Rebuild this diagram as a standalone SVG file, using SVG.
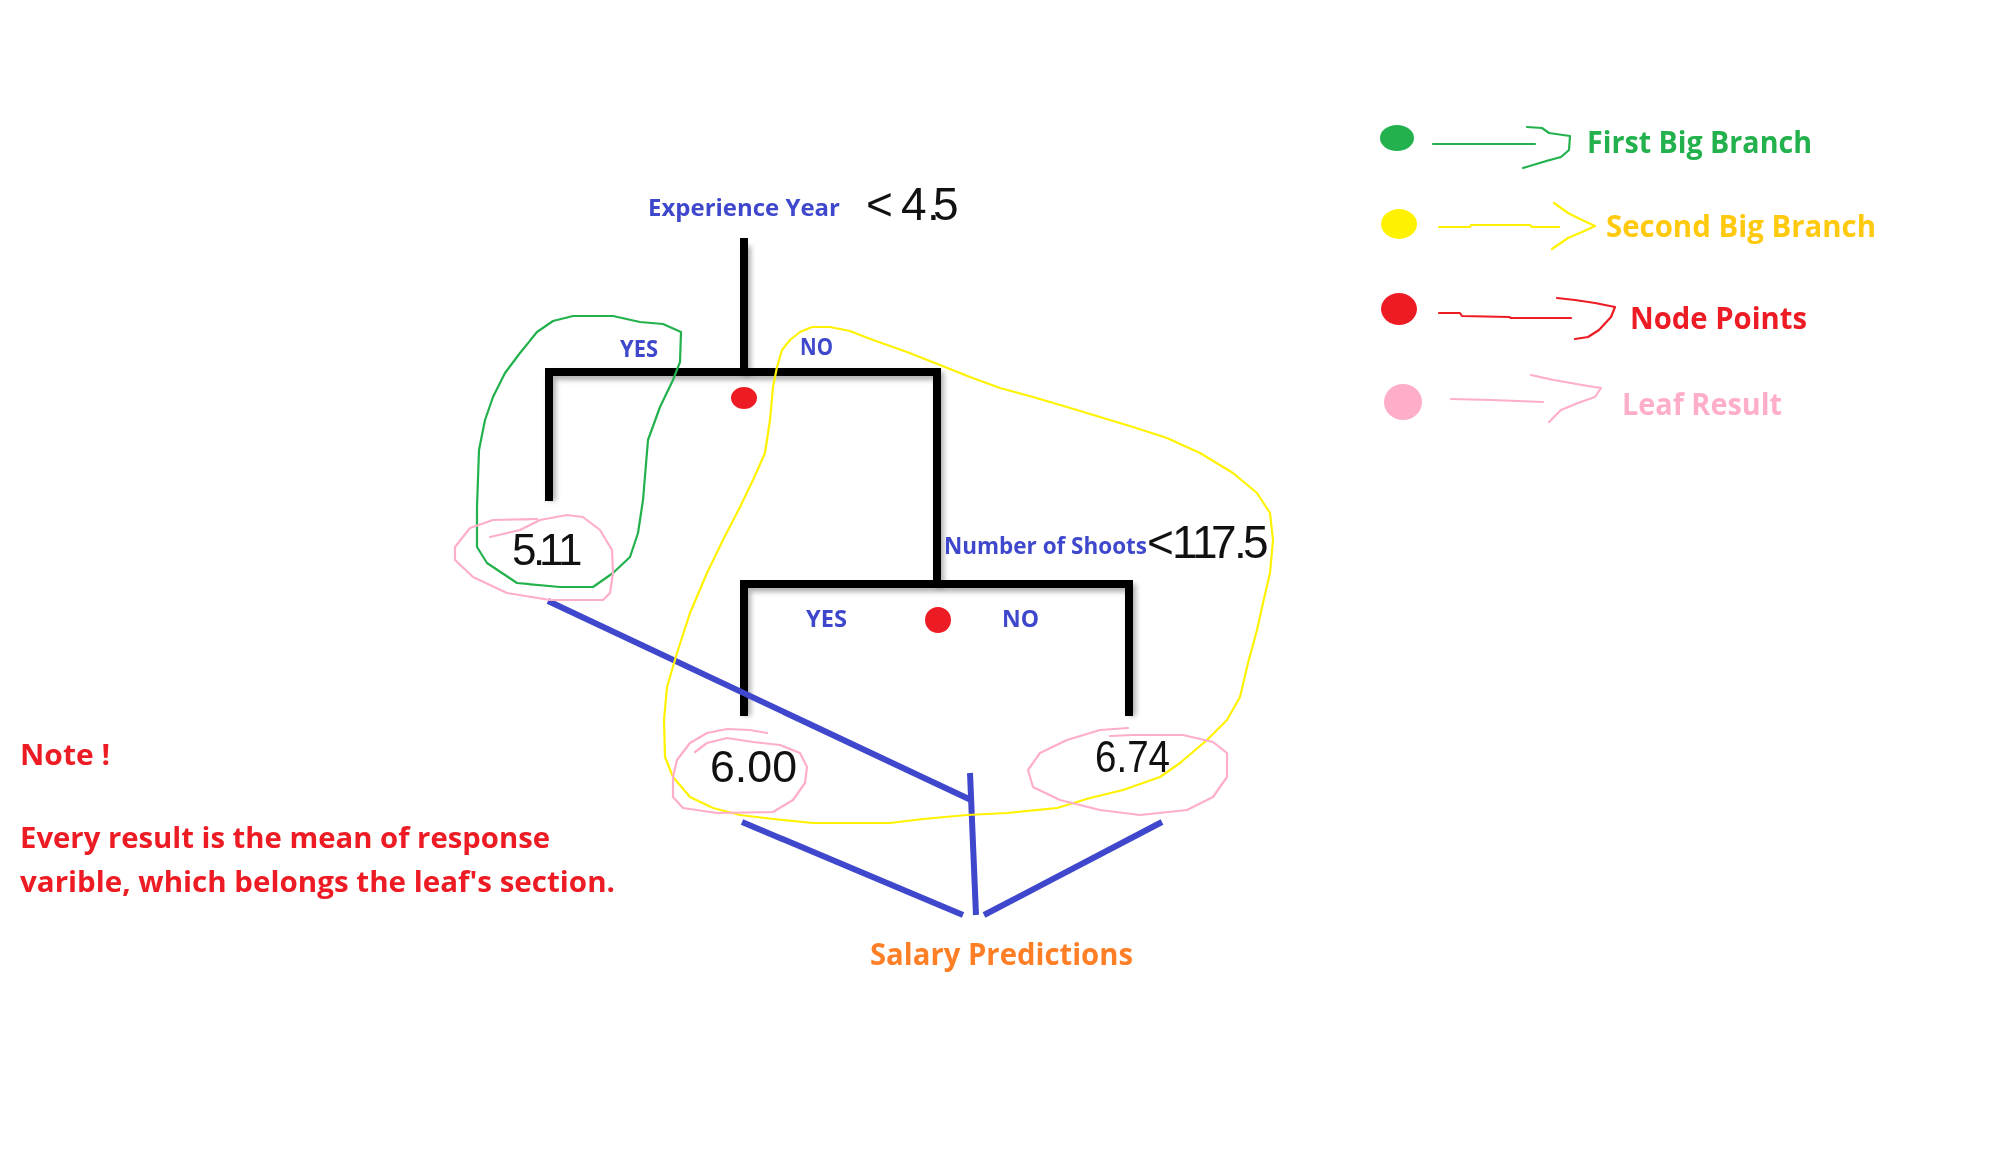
<svg xmlns="http://www.w3.org/2000/svg" width="1998" height="1152" viewBox="0 0 1998 1152">
<style>
  .lbl{font-family:"Open Sans","Liberation Sans",sans-serif;font-weight:700;fill:#3f48cc;}
  .num{font-family:"Liberation Sans","DejaVu Sans",sans-serif;fill:#111;}
  .tree{fill:none;stroke:#000;stroke-width:8;stroke-linecap:square;stroke-linejoin:miter;}
  .shadow{fill:none;stroke:#000;stroke-width:8;opacity:0.3;}
  .blue{fill:none;stroke:#3f48cc;stroke-width:6;stroke-linecap:butt;}
  .hand{fill:none;stroke-width:2.2;stroke-linejoin:round;stroke-linecap:round;}
  .leg{font-family:"Open Sans","Liberation Sans",sans-serif;font-weight:700;}
  .note{font-family:"Open Sans","Liberation Sans",sans-serif;font-weight:700;fill:#ed1c24;}
</style>
<defs>
  <filter id="blur" x="-20%" y="-20%" width="140%" height="140%"><feGaussianBlur stdDeviation="2.5"/></filter>
</defs>
<rect width="1998" height="1152" fill="#fff"/>

<g id="connectors">
  <g id="tree-shadow" filter="url(#blur)" transform="translate(3,4)">
    <path class="shadow" d="M744,242 V372"/>
    <path class="shadow" d="M549,497 V372 H937 V584"/>
    <path class="shadow" d="M744,712 V584 H1129 V712"/>
  </g>
  <path class="tree" d="M744,242 V372"/>
  <path class="tree" d="M549,497 V372 H937 V584"/>
  <path class="tree" d="M744,712 V584 H1129 V712"/>
  <g id="prediction-lines">
    <line class="blue" x1="548" y1="601" x2="971" y2="800"/>
    <line class="blue" x1="970" y1="773" x2="976" y2="915"/>
    <line class="blue" x1="742" y1="822" x2="963" y2="915"/>
    <line class="blue" x1="1162" y1="822" x2="984" y2="915"/>
  </g>
</g>

<g id="branch-loops">
  <path id="first-big-branch" class="hand" stroke="#22b14c" d="M681,332 L680,362 L673,380 L660,407 L648,440 L643,500 L638,533 L630,557 L613,573 L593,587 L560,587 L517,583 L487,563 L477,547 L477,507 L479,450 L485,420 L493,397 L505,373 L520,353 L537,332 L553,321 L573,316 L613,316 L640,322 L663,324 Z"/>
  <path id="second-big-branch" class="hand" stroke="#fff200" d="M777,367 L782,350 L790,340 L800,332 L812,327 L830,327 L850,331 L873,340 L907,352 L940,365 L970,377 L1000,388 L1033,397 L1067,407 L1100,417 L1133,427 L1167,438 L1200,453 L1233,473 L1257,493 L1270,513 L1273,540 L1270,573 L1263,603 L1257,630 L1248,663 L1240,697 L1227,720 L1207,740 L1180,763 L1160,777 L1123,790 L1090,798 L1057,808 L1007,813 L967,815 L923,819 L890,823 L813,823 L773,819 L740,815 L713,808 L690,797 L673,777 L665,757 L664,720 L667,687 L677,653 L690,613 L707,573 L723,540 L740,507 L753,480 L765,453 L770,420 L773,387 Z"/>
</g>

<g id="node-root">
  <text class="lbl" x="648" y="216" font-size="24" textLength="192" lengthAdjust="spacingAndGlyphs">Experience Year</text>
  <text class="num" x="866 890 901 927 933" y="220" font-size="46">&lt; 4.5</text>
  <ellipse cx="744" cy="398" rx="13" ry="11" fill="#ed1c24"/>
  <text class="lbl" x="620" y="357" font-size="23" textLength="38" lengthAdjust="spacingAndGlyphs">YES</text>
  <text class="lbl" x="800" y="355" font-size="23" textLength="33" lengthAdjust="spacingAndGlyphs">NO</text>
</g>

<g id="node-shoots">
  <text class="lbl" x="944" y="554" font-size="23" textLength="203" lengthAdjust="spacingAndGlyphs">Number of Shoots</text>
  <text class="num" x="1147 1170 1172 1192 1211 1234 1243" y="558" font-size="46">&lt; 117.5</text>
  <ellipse cx="938" cy="620" rx="13" ry="13" fill="#ed1c24"/>
  <text class="lbl" x="806" y="627" font-size="23" textLength="41" lengthAdjust="spacingAndGlyphs">YES</text>
  <text class="lbl" x="1002" y="627" font-size="23" textLength="37" lengthAdjust="spacingAndGlyphs">NO</text>
</g>

<g id="leaf-511">
  <path class="hand" stroke="#ffaec9" d="M490,537 L520,530 L540,520 L567,515 L583,517 L600,530 L612,550 L613,573 L610,593 L603,600 L550,600 L507,593 L473,577 L455,560 L455,547 L470,528 L493,520 L537,519"/>
  <text class="num" x="512 533 539 558" y="565" font-size="44">5.11</text>
</g>

<g id="leaf-600">
  <path class="hand" stroke="#ffaec9" d="M767,733 L750,730 L727,729 L707,733 L690,743 L677,760 L673,777 L673,797 L683,808 L717,813 L773,812 L793,800 L805,783 L807,767 L800,753 L780,745 L753,742 L727,738 L707,743 L695,752"/>
  <text class="num" x="710" y="782" font-size="44" textLength="87" lengthAdjust="spacingAndGlyphs">6.00</text>
</g>

<g id="leaf-674">
  <path class="hand" stroke="#ffaec9" d="M1128,728 L1100,730 L1067,740 L1040,753 L1028,770 L1033,787 L1060,800 L1100,810 L1140,815 L1187,810 L1213,797 L1227,777 L1227,753 L1213,742 L1183,735 L1133,735 L1110,736"/>
  <text class="num" x="1095" y="772" font-size="44" textLength="75" lengthAdjust="spacingAndGlyphs">6.74</text>
</g>

<g id="salary-predictions">
  <text x="870" y="965" font-size="30" font-family="'Open Sans','Liberation Sans',sans-serif" font-weight="700" fill="#ff7f27" textLength="263" lengthAdjust="spacingAndGlyphs">Salary Predictions</text>
</g>

<g id="note">
  <text class="note" x="20" y="765" font-size="29" textLength="90" lengthAdjust="spacingAndGlyphs">Note !</text>
  <text class="note" x="20" y="848" font-size="29" textLength="530" lengthAdjust="spacingAndGlyphs">Every result is the mean of response</text>
  <text class="note" x="20" y="892" font-size="29" textLength="595" lengthAdjust="spacingAndGlyphs">varible, which belongs the leaf's section.</text>
</g>

<g id="legend-first">
  <ellipse cx="1397" cy="138" rx="17" ry="13" fill="#22b14c"/>
  <path class="hand" stroke="#22b14c" d="M1433,144 L1535,144 M1527,127 L1542,128 L1549,133 L1570,136 L1569,150 L1561,157 L1543,162 L1523,168"/>
  <text class="leg" fill="#22b14c" x="1587" y="153" font-size="30" textLength="225" lengthAdjust="spacingAndGlyphs">First Big Branch</text>
</g>
<g id="legend-second">
  <ellipse cx="1399" cy="224" rx="18" ry="15" fill="#fff200"/>
  <path class="hand" stroke="#fff200" d="M1439,227 L1470,227 L1471,225 L1530,225 L1532,227 L1559,227 M1554,203 L1568,213 L1582,220 L1595,226 L1582,232 L1568,238 L1552,249"/>
  <text class="leg" fill="#ffc90e" x="1606" y="237" font-size="30" textLength="270" lengthAdjust="spacingAndGlyphs">Second Big Branch</text>
</g>
<g id="legend-node">
  <ellipse cx="1399" cy="309" rx="18" ry="16" fill="#ed1c24"/>
  <path class="hand" stroke="#ed1c24" d="M1439,313 L1460,313 L1462,316 L1509,317 L1511,318 L1571,318 M1557,298 L1575,300 L1595,303 L1615,307 L1611,317 L1599,330 L1588,337 L1575,339"/>
  <text class="leg" fill="#ed1c24" x="1630" y="329" font-size="30" textLength="177" lengthAdjust="spacingAndGlyphs">Node Points</text>
</g>
<g id="legend-leaf">
  <ellipse cx="1403" cy="402" rx="19" ry="18" fill="#ffaec9"/>
  <path class="hand" stroke="#ffaec9" d="M1451,399 L1492,400 L1543,402 M1531,375 L1554,380 L1582,385 L1601,388 L1595,397 L1578,403 L1561,410 L1549,422"/>
  <text class="leg" fill="#ffaec9" x="1622" y="415" font-size="30" textLength="160" lengthAdjust="spacingAndGlyphs">Leaf Result</text>
</g>
</svg>
